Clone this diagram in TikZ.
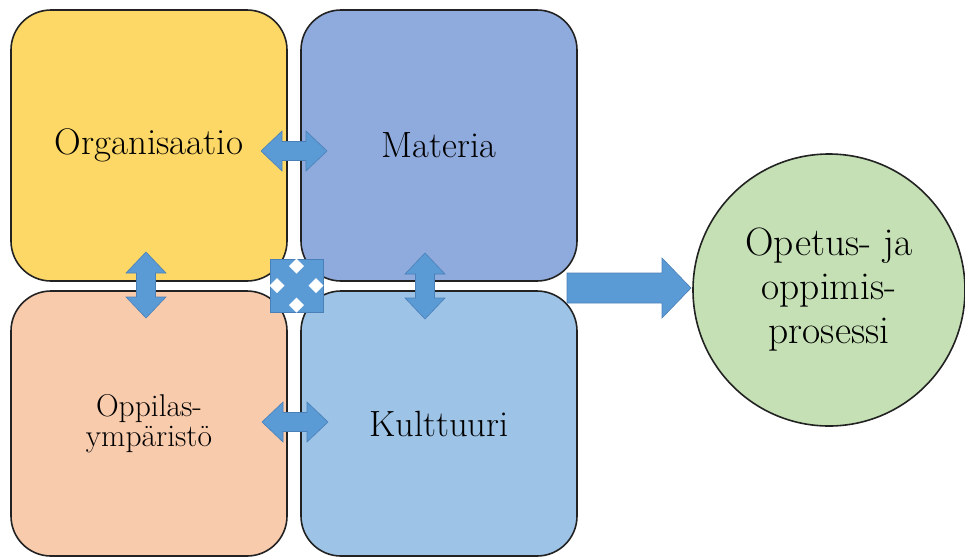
\documentclass[tikz,border=0pt]{standalone}
\usetikzlibrary{shapes.geometric}
\definecolor{cyel}{HTML}{FDD866}
\definecolor{cpur}{HTML}{8FAADC}
\definecolor{cpea}{HTML}{F8CBAD}
\definecolor{clbl}{HTML}{9DC3E6}
\definecolor{cgrn}{HTML}{C5E0B4}
\definecolor{carr}{HTML}{5B9BD5}
\definecolor{carb}{HTML}{4A80B8}
\definecolor{cedge}{HTML}{222222}
\tikzset{
  box/.style={draw=cedge, line width=1.6pt, rounded corners=40pt, rectangle,
    minimum width=276pt, inner sep=0pt, align=center},
  arr/.style={fill=carr, draw=carb, line width=0.6pt, line join=miter},
  bigfont/.style={font=\fontsize{36.5}{40}\selectfont},
  harrow/.pic={
    \draw[arr] (-33,0) -- (-12,-20) -- (-12,-9.5) -- (12,-9.5) -- (12,-20) -- (33,0)
      -- (12,20) -- (12,9.5) -- (-12,9.5) -- (-12,20) -- cycle;
  }
}
\begin{document}
\begin{tikzpicture}[x=1pt,y=-1pt]
\useasboundingbox (0,0) rectangle (965,558);
\node[box, fill=cyel, minimum height=271pt, font=\fontsize{37}{40}\selectfont] (org) at (149,145.5) {Organisaatio};
\node[box, fill=cpur, minimum height=271pt, bigfont] (mat) at (439,145.5) {Materia};
\node[box, fill=cpea, minimum height=265pt, font=\fontsize{31.5}{30}\selectfont] (opp) at (149,423.5) {Oppilas-\\ympäristö};
\node[box, fill=clbl, minimum height=265pt, bigfont] (kul) at (439,423.5) {Kulttuuri};
\node[circle, draw=cedge, fill=cgrn, line width=1.6pt, minimum size=272pt, inner sep=0pt,
  align=center, font=\fontsize{39.5}{44}\selectfont] (ope) at (829,290) {Opetus- ja\\oppimis-\\prosessi};
% double arrows
\pic at (294,151) {harrow};
\pic at (295,422) {harrow};
\pic[rotate=90] at (146,285) {harrow};
\pic[rotate=90] at (425,286) {harrow};
% centre square with diamonds
\fill[carr, draw=carb, line width=0.6pt] (270,259) rectangle (323,312);
\foreach \dx/\dy in {0/-19.5, -19.5/0, 19.5/0, 0/19.5}
  \fill[white] ({296.5+\dx},{285.5+\dy-7.5}) -- ++(7.5,7.5) -- ++(-7.5,7.5) -- ++(-7.5,-7.5) -- cycle;
% big arrow
\draw[arr] (567,273) -- (662,273) -- (662,258) -- (691,288) -- (662,318) -- (662,303) -- (567,303) -- cycle;
\end{tikzpicture}
\end{document}
